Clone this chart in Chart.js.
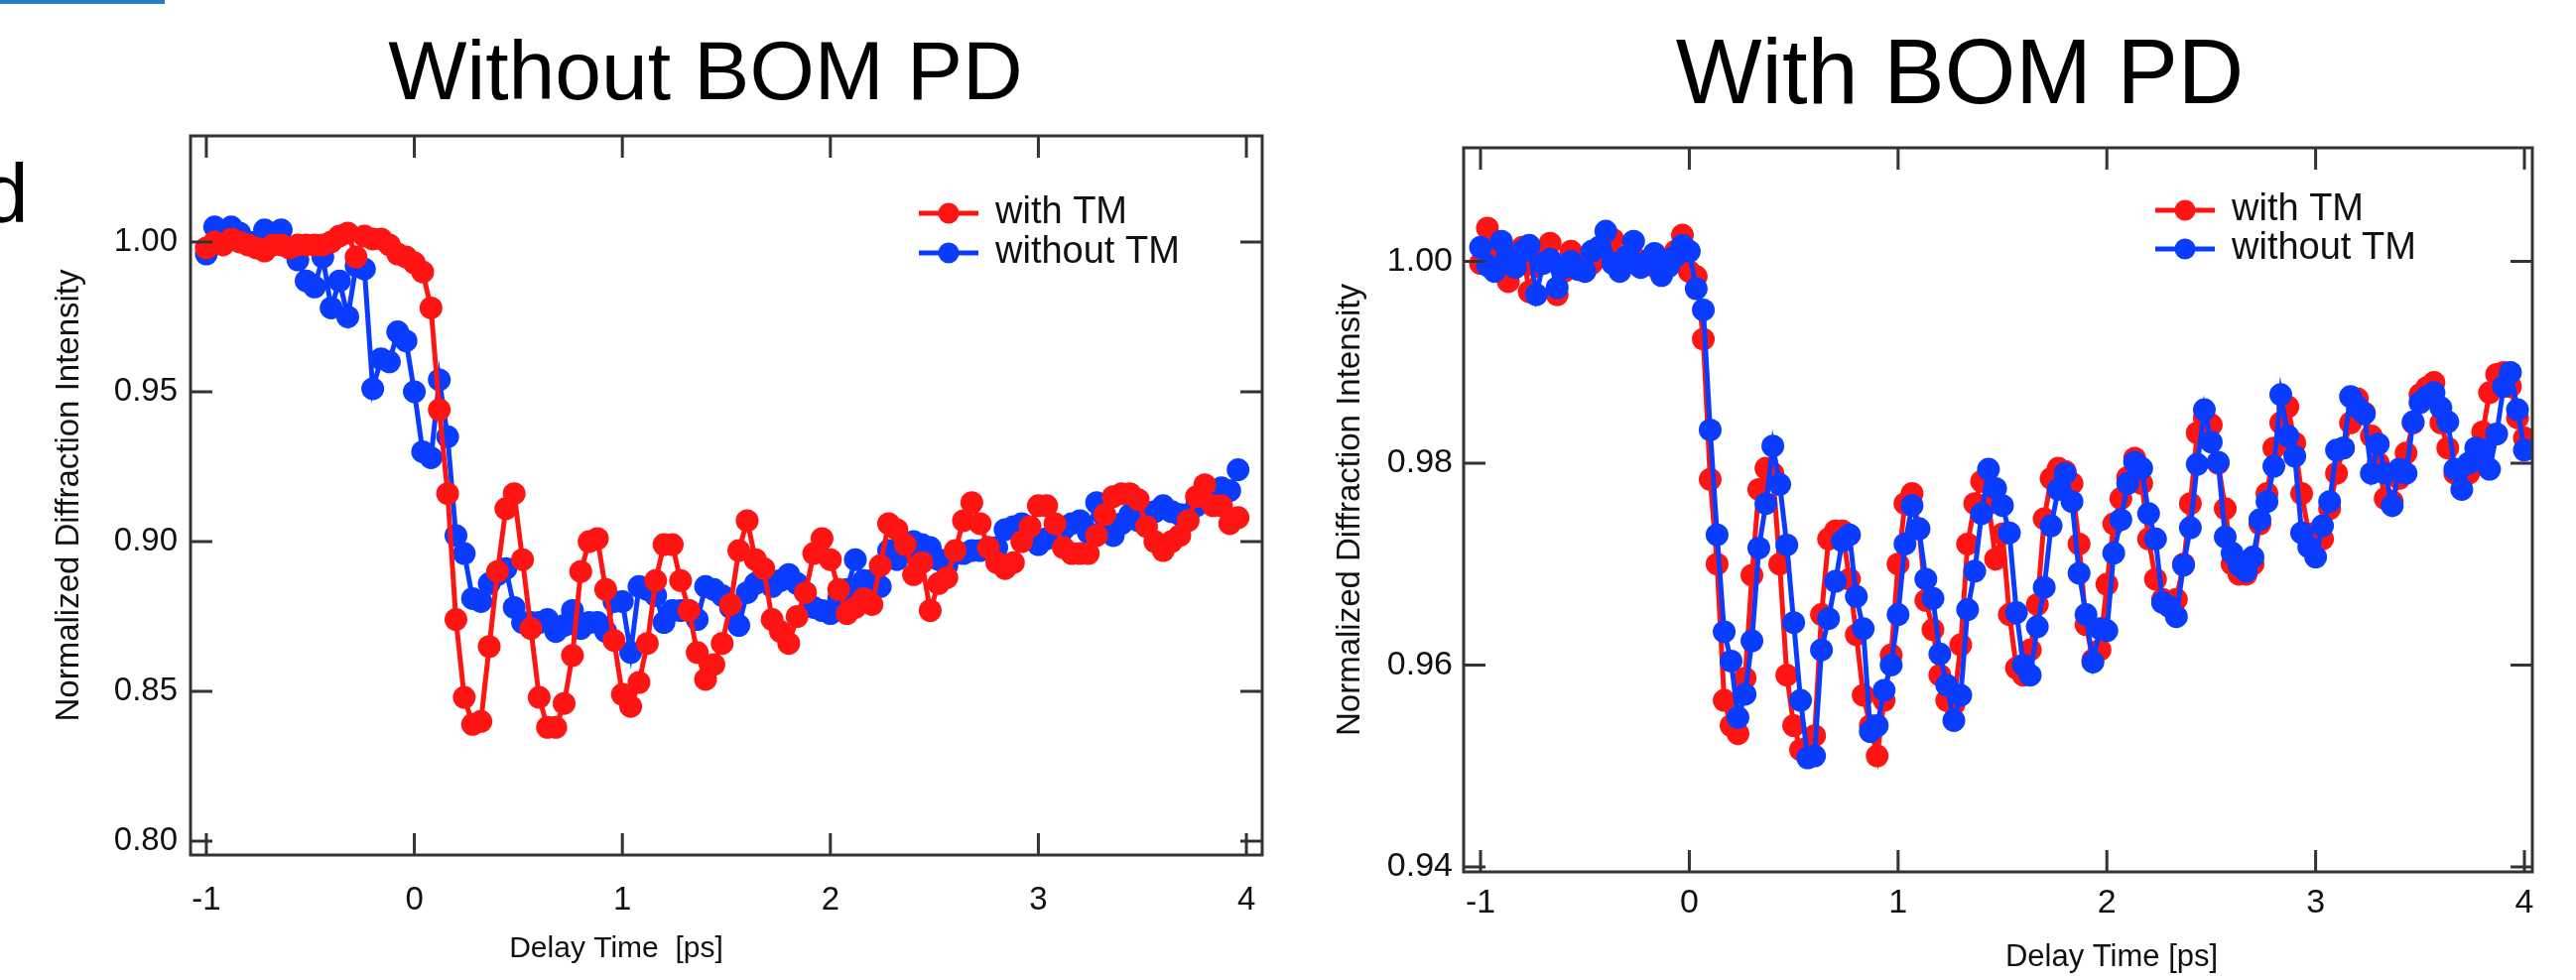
<!DOCTYPE html>
<html>
<head>
<meta charset="utf-8">
<script src="https://cdn.jsdelivr.net/npm/chart.js@4.4.1/dist/chart.umd.min.js"></script>
<style>
  body { margin: 0; background: #fff; width: 2596px; height: 988px; overflow: hidden; position: relative; }
  #bar { position: absolute; left: 0; top: 0; width: 166px; height: 4px; background: #2a7bc6; }
  #c1 { position: absolute; left: 0; top: 0; }
  #c2 { position: absolute; left: 1300px; top: 0; }
</style>
</head>
<body>
<div id="bar"></div>
<canvas id="c1" width="1300" height="988"></canvas>
<canvas id="c2" width="1296" height="988"></canvas>
<script>
// ---- data: left panel (without BOM PD), delay time in ps
var leftTime = [
  -1.00,-0.96,-0.92,-0.88,-0.84,-0.80,-0.76,-0.72,-0.68,-0.64,-0.60,-0.56,-0.52,-0.48,-0.44,-0.40,-0.36,-0.32,-0.28,-0.24,-0.20,-0.16,-0.12,-0.08,-0.04,
  0.00,0.04,0.08,0.12,0.16,0.20,0.24,0.28,0.32,0.36,0.40,0.44,0.48,0.52,0.56,0.60,0.64,0.68,0.72,0.76,0.80,0.84,0.88,0.92,0.96,
  1.00,1.04,1.08,1.12,1.16,1.20,1.24,1.28,1.32,1.36,1.40,1.44,1.48,1.52,1.56,1.60,1.64,1.68,1.72,1.76,1.80,1.84,1.88,1.92,1.96,
  2.00,2.04,2.08,2.12,2.16,2.20,2.24,2.28,2.32,2.36,2.40,2.44,2.48,2.52,2.56,2.60,2.64,2.68,2.72,2.76,2.80,2.84,2.88,2.92,2.96,
  3.00,3.04,3.08,3.12,3.16,3.20,3.24,3.28,3.32,3.36,3.40,3.44,3.48,3.52,3.56,3.60,3.64,3.68,3.72,3.76,3.80,3.84,3.88,3.92,3.96
];
var leftWithTM = [
  0.998,1.000,0.999,1.001,1.000,0.999,0.998,0.997,0.999,0.999,0.998,0.999,0.999,0.999,0.999,1.000,1.002,1.003,0.995,1.002,1.001,1.001,0.999,0.996,0.995,
  0.993,0.990,0.978,0.944,0.916,0.874,0.848,0.839,0.840,0.865,0.890,0.911,0.916,0.894,0.871,0.848,0.838,0.838,0.846,0.862,0.890,0.900,0.901,0.884,0.867,
  0.849,0.845,0.853,0.866,0.887,0.899,0.899,0.887,0.877,0.863,0.854,0.859,0.866,0.879,0.897,0.907,0.894,0.891,0.874,0.870,0.866,0.875,0.883,0.896,0.901,
  0.894,0.884,0.876,0.878,0.881,0.879,0.892,0.906,0.904,0.899,0.889,0.893,0.877,0.886,0.888,0.897,0.907,0.913,0.906,0.898,0.893,0.891,0.893,0.900,0.905,
  0.912,0.912,0.906,0.898,0.896,0.896,0.896,0.902,0.909,0.915,0.916,0.916,0.914,0.905,0.900,0.897,0.900,0.902,0.907,0.915,0.919,0.912,0.912,0.906,0.908
];
var leftWithoutTM = [
  0.996,1.005,1.002,1.005,1.003,1.000,1.000,1.004,1.003,1.004,0.998,0.994,0.987,0.985,0.995,0.978,0.987,0.975,0.992,0.991,0.951,0.961,0.960,0.970,0.967,
  0.950,0.930,0.928,0.954,0.935,0.902,0.896,0.881,0.880,0.886,0.889,0.891,0.878,0.873,0.873,0.873,0.874,0.870,0.872,0.877,0.871,0.873,0.873,0.870,0.880,
  0.880,0.863,0.885,0.884,0.882,0.873,0.877,0.877,0.877,0.874,0.885,0.884,0.882,0.878,0.872,0.883,0.886,0.889,0.885,0.887,0.889,0.886,0.883,0.878,0.877,
  0.876,0.881,0.884,0.894,0.887,0.887,0.885,0.897,0.894,0.897,0.900,0.899,0.898,0.894,0.892,0.896,0.896,0.897,0.897,0.898,0.898,0.904,0.905,0.906,0.902,
  0.899,0.901,0.903,0.904,0.906,0.907,0.903,0.913,0.908,0.902,0.906,0.909,0.907,0.908,0.910,0.912,0.910,0.909,0.909,0.912,0.914,0.915,0.918,0.917,0.924
];

// ---- data: right panel (with BOM PD)
var rightTime = [
  -1.000,-0.967,-0.933,-0.900,-0.867,-0.833,-0.800,-0.767,-0.733,-0.700,-0.667,-0.633,-0.600,-0.567,-0.533,-0.500,-0.467,-0.433,-0.400,-0.367,-0.333,-0.300,-0.267,-0.233,-0.200,-0.167,-0.133,-0.100,-0.067,-0.033,
  0.000,0.033,0.067,0.100,0.133,0.167,0.200,0.233,0.267,0.300,0.333,0.367,0.400,0.433,0.467,0.500,0.533,0.567,0.600,0.633,0.667,0.700,0.733,0.767,0.800,0.833,0.867,0.900,0.933,0.967,
  1.000,1.033,1.067,1.100,1.133,1.167,1.200,1.233,1.267,1.300,1.333,1.367,1.400,1.433,1.467,1.500,1.533,1.567,1.600,1.633,1.667,1.700,1.733,1.767,1.800,1.833,1.867,1.900,1.933,1.967,
  2.000,2.033,2.067,2.100,2.133,2.167,2.200,2.233,2.267,2.300,2.333,2.367,2.400,2.433,2.467,2.500,2.533,2.567,2.600,2.633,2.667,2.700,2.733,2.767,2.800,2.833,2.867,2.900,2.933,2.967,
  3.000,3.033,3.067,3.100,3.133,3.167,3.200,3.233,3.267,3.300,3.333,3.367,3.400,3.433,3.467,3.500,3.533,3.567,3.600,3.633,3.667,3.700,3.733,3.767,3.800,3.833,3.867,3.900,3.933,3.967,
  4.000
];
var rightWithTM = [
  0.9998,1.0033,1.0005,0.9990,0.9980,1.0005,1.0014,0.9970,0.9995,1.0010,1.0018,0.9967,0.9990,1.0010,1.0000,0.9995,0.9998,1.0005,1.0015,1.0022,1.0002,0.9998,1.0005,0.9995,1.0000,0.9995,0.9998,1.0002,1.0010,1.0026,
  0.9990,0.9985,0.9923,0.9784,0.9700,0.9565,0.9540,0.9532,0.9587,0.9689,0.9774,0.9795,0.9790,0.9700,0.9590,0.9540,0.9516,0.9518,0.9530,0.9650,0.9725,0.9733,0.9733,0.9685,0.9630,0.9570,0.9540,0.9510,0.9565,0.9610,
  0.9700,0.9760,0.9770,0.9735,0.9664,0.9635,0.9590,0.9565,0.9561,0.9620,0.9720,0.9760,0.9782,0.9760,0.9705,0.9730,0.9650,0.9597,0.9590,0.9615,0.9660,0.9745,0.9785,0.9795,0.9792,0.9780,0.9720,0.9640,0.9605,0.9615,
  0.9680,0.9740,0.9765,0.9786,0.9805,0.9780,0.9725,0.9685,0.9665,0.9658,0.9665,0.9700,0.9760,0.9830,0.9845,0.9838,0.9800,0.9755,0.9700,0.9690,0.9690,0.9700,0.9740,0.9770,0.9815,0.9840,0.9856,0.9820,0.9770,0.9730,
  0.9721,0.9725,0.9755,0.9790,0.9815,0.9840,0.9864,0.9850,0.9827,0.9800,0.9765,0.9762,0.9785,0.9810,0.9840,0.9868,0.9875,0.9880,0.9840,0.9815,0.9790,0.9790,0.9790,0.9805,0.9831,0.9870,0.9888,0.9890,0.9876,0.9845,
  0.9825
];
var rightWithoutTM = [
  1.0014,0.9996,0.9990,1.0020,1.0002,0.9994,1.0010,1.0016,0.9967,0.9998,1.0002,0.9974,0.9994,1.0000,0.9992,0.9990,1.0010,1.0014,1.0030,0.9998,0.9990,1.0005,1.0020,0.9994,1.0000,1.0008,0.9986,0.9995,1.0005,1.0016,
  1.0010,0.9973,0.9952,0.9833,0.9729,0.9633,0.9604,0.9548,0.9571,0.9624,0.9716,0.9760,0.9817,0.9779,0.9719,0.9642,0.9565,0.9508,0.9510,0.9615,0.9646,0.9683,0.9723,0.9729,0.9668,0.9636,0.9534,0.9540,0.9575,0.9600,
  0.9650,0.9720,0.9758,0.9735,0.9685,0.9666,0.9611,0.9580,0.9545,0.9570,0.9655,0.9693,0.9750,0.9794,0.9775,0.9758,0.9731,0.9652,0.9600,0.9590,0.9638,0.9677,0.9738,0.9774,0.9790,0.9762,0.9691,0.9650,0.9603,0.9636,
  0.9634,0.9711,0.9744,0.9780,0.9801,0.9795,0.9750,0.9725,0.9662,0.9658,0.9648,0.9699,0.9736,0.9799,0.9853,0.9821,0.9801,0.9727,0.9711,0.9699,0.9693,0.9707,0.9744,0.9762,0.9797,0.9868,0.9827,0.9807,0.9731,0.9717,
  0.9707,0.9738,0.9762,0.9813,0.9815,0.9866,0.9856,0.9849,0.9790,0.9819,0.9790,0.9758,0.9794,0.9790,0.9841,0.9860,0.9866,0.9870,0.9855,0.9841,0.9794,0.9774,0.9800,0.9815,0.9813,0.9794,0.9829,0.9876,0.9890,0.9853,
  0.9813
];

var xTickValues = [-1, 0, 1, 2, 3, 4];
var leftYTicks = [0.80, 0.85, 0.90, 0.95, 1.00];
var rightYTicks = [0.94, 0.96, 0.98, 1.00];

var RED = '#ff1414';
var BLUE = '#0a3cff';
var FONT = "'Liberation Sans', Arial, Helvetica, sans-serif";

Chart.defaults.font.family = FONT;
Chart.defaults.color = '#111';

function pts(times, vals) {
  return times.map(function (t, i) { return { x: t, y: vals[i] }; });
}

// draws the closed frame, inward ticks, legend and free texts
var framePlugin = {
  id: 'frame',
  afterDraw: function (chart, args, o) {
    var ctx = chart.ctx, a = chart.chartArea;
    var xs = chart.scales.x, ys = chart.scales.y;
    ctx.save();
    ctx.strokeStyle = '#333';
    ctx.lineWidth = 3;
    ctx.strokeRect(a.left, a.top, a.right - a.left, a.bottom - a.top);
    ctx.beginPath();
    xs.ticks.forEach(function (t) {
      var px = xs.getPixelForValue(t.value);
      ctx.moveTo(px, a.bottom); ctx.lineTo(px, a.bottom - 22);
      ctx.moveTo(px, a.top); ctx.lineTo(px, a.top + 22);
    });
    ys.ticks.forEach(function (t) {
      var py = ys.getPixelForValue(t.value);
      ctx.moveTo(a.left, py); ctx.lineTo(a.left + 22, py);
      ctx.moveTo(a.right, py); ctx.lineTo(a.right - 22, py);
    });
    ctx.stroke();

    // legend
    ctx.textBaseline = 'middle';
    ctx.textAlign = 'left';
    ctx.font = o.legendSize + 'px ' + FONT;
    chart.data.datasets.forEach(function (ds, i) {
      var y = o.legendY + i * o.legendGap;
      ctx.strokeStyle = ds.borderColor;
      ctx.fillStyle = ds.borderColor;
      ctx.lineWidth = 5;
      ctx.beginPath();
      ctx.moveTo(o.legendX, y); ctx.lineTo(o.legendX + 60, y);
      ctx.stroke();
      ctx.beginPath();
      ctx.arc(o.legendX + 30, y, 10.5, 0, Math.PI * 2);
      ctx.fill();
      ctx.fillStyle = '#111';
      ctx.fillText(ds.label, o.legendX + 77, y);
    });

    // x axis title
    ctx.textAlign = 'center';
    ctx.fillStyle = '#111';
    ctx.font = o.xTitleSize + 'px ' + FONT;
    ctx.fillText(o.xTitle, o.xTitleX, o.xTitleY);

    // panel title
    ctx.textBaseline = 'alphabetic';
    ctx.fillStyle = '#000';
    ctx.font = o.titleSize + 'px ' + FONT;
    ctx.fillText(o.title, o.titleX, o.titleY);
    if (o.extra) {
      ctx.textAlign = 'left';
      ctx.fillText(o.extra, o.extraX, o.extraY);
    }
    ctx.restore();
  }
};

function makeChart(id, cfg) {
  return new Chart(document.getElementById(id), {
    type: 'line',
    data: {
      datasets: [{
        label: 'with TM',
        data: pts(cfg.time, cfg.withTM),
        borderColor: RED, backgroundColor: RED,
        pointBackgroundColor: RED, pointBorderWidth: 0, pointRadius: 11.5,
        borderWidth: 5, tension: 0, order: cfg.redOrder
      }, {
        label: 'without TM',
        data: pts(cfg.time, cfg.withoutTM),
        borderColor: BLUE, backgroundColor: BLUE,
        pointBackgroundColor: BLUE, pointBorderWidth: 0, pointRadius: 11.5,
        borderWidth: 5, tension: 0, order: cfg.blueOrder
      }]
    },
    options: {
      responsive: false,
      animation: false,
      devicePixelRatio: 1,
      layout: { padding: cfg.pad },
      plugins: {
        legend: { display: false },
        tooltip: { enabled: false },
        frame: cfg.frame
      },
      scales: {
        x: {
          type: 'linear', min: cfg.xMin, max: cfg.xMax,
          afterBuildTicks: function (s) { s.ticks = xTickValues.map(function (v) { return { value: v }; }); },
          afterFit: function (s) { s.height = cfg.xHeight; },
          ticks: { font: { size: cfg.tickSize }, padding: cfg.xPad, maxRotation: 0, callback: function (v) { return String(v); } },
          grid: { display: false, drawTicks: false },
          border: { display: false }
        },
        y: {
          type: 'linear', min: cfg.yMin, max: cfg.yMax,
          afterBuildTicks: function (s) { s.ticks = cfg.yTicks.map(function (v) { return { value: v }; }); },
          afterFit: function (s) { s.width = cfg.yWidth; },
          ticks: { font: { size: cfg.tickSize }, padding: cfg.yPad, callback: function (v) { return Number(v).toFixed(2); } },
          grid: { display: false, drawTicks: false },
          border: { display: false },
          title: { display: true, text: 'Normalized Diffraction Intensity', font: { size: 33 }, color: '#111', padding: { top: cfg.yTitlePad, bottom: 0 } }
        }
      }
    },
    plugins: [framePlugin]
  });
}

makeChart('c1', {
  time: leftTime, withTM: leftWithTM, withoutTM: leftWithoutTM,
  redOrder: 0, blueOrder: 1, tickSize: 33,
  pad: { left: 0, top: 137, right: 28, bottom: 0 },
  xMin: -1.076, xMax: 4.076, xHeight: 126, xPad: 26,
  yMin: 0.7954, yMax: 1.0354, yTicks: leftYTicks, yWidth: 192, yPad: 13, yTitlePad: 50,
  frame: {
    legendX: 926, legendY: 215, legendGap: 40, legendSize: 38,
    xTitle: 'Delay Time  [ps]', xTitleX: 621, xTitleY: 957, xTitleSize: 30,
    title: 'Without BOM PD', titleX: 711, titleY: 100, titleSize: 84,
    extra: 'd', extraX: -18, extraY: 224
  }
});

makeChart('c2', {
  time: rightTime, withTM: rightWithTM, withoutTM: rightWithoutTM,
  redOrder: 1, blueOrder: 0, tickSize: 34,
  pad: { left: 0, top: 149, right: 44, bottom: 0 },
  xMin: -1.081, xMax: 4.038, xHeight: 109, xPad: 11,
  yMin: 0.9395, yMax: 1.01126, yTicks: rightYTicks, yWidth: 175, yPad: 11, yTitlePad: 41,
  frame: {
    legendX: 872, legendY: 212, legendGap: 39, legendSize: 38,
    xTitle: 'Delay Time [ps]', xTitleX: 828, xTitleY: 965, xTitleSize: 31,
    title: 'With BOM PD', titleX: 675, titleY: 104, titleSize: 92
  }
});
</script>
</body>
</html>
